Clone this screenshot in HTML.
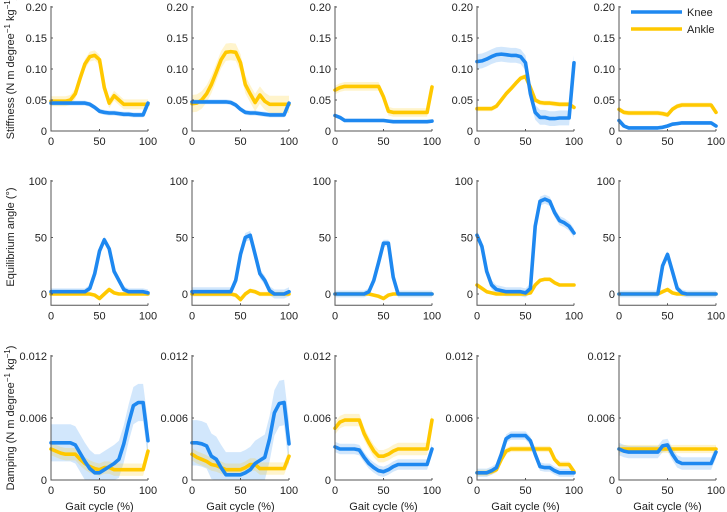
<!DOCTYPE html>
<html><head><meta charset="utf-8">
<style>
html,body{margin:0;padding:0;background:#fff;}
svg{display:block;font-family:"Liberation Sans",sans-serif;}
</style></head>
<body>
<svg id="chart" width="727" height="512" viewBox="0 0 727 512" xmlns="http://www.w3.org/2000/svg"></svg>
<script>
const X = [0,5,10,15,20,25,30,35,40,45,50,55,60,65,70,75,80,85,90,95,100];
// Row 1: stiffness
const stiffKnee = [
 [.045,.045,.045,.045,.045,.045,.045,.045,.043,.038,.032,.030,.029,.029,.028,.027,.027,.026,.026,.026,.045],
 [.047,.047,.047,.047,.047,.047,.047,.047,.046,.042,.035,.030,.029,.029,.028,.027,.026,.026,.026,.026,.045],
 [.025,.022,.017,.017,.017,.017,.017,.017,.017,.017,.017,.016,.015,.015,.015,.015,.015,.015,.015,.015,.016],
 [.112,.113,.116,.120,.123,.124,.123,.122,.122,.120,.110,.060,.030,.022,.022,.020,.020,.021,.021,.021,.110],
 [.017,.008,.005,.005,.005,.005,.005,.005,.005,.006,.008,.011,.012,.013,.013,.013,.013,.013,.013,.013,.008]];
const stiffAnkle = [
 [.048,.048,.048,.048,.050,.060,.085,.108,.120,.122,.115,.070,.045,.057,.050,.043,.043,.043,.043,.043,.043],
 [.044,.045,.050,.060,.075,.095,.115,.127,.128,.127,.110,.075,.060,.046,.058,.048,.043,.043,.043,.043,.043],
 [.066,.070,.072,.072,.072,.072,.072,.072,.072,.072,.055,.032,.030,.030,.030,.030,.030,.030,.030,.030,.071],
 [.036,.036,.036,.036,.040,.050,.060,.068,.077,.085,.088,.070,.050,.046,.045,.045,.044,.043,.043,.043,.038],
 [.035,.030,.029,.029,.029,.029,.029,.029,.029,.028,.026,.035,.040,.042,.042,.042,.042,.042,.042,.042,.030]];
const stiffKneeSd = [.004,.004,.003,.012,.003];
const stiffAnkleSd = [.008,.014,.007,.004,.004];
// Row 2: equilibrium angle
const eqKnee = [
 [2,2,2,2,2,2,2,2,5,18,38,48,40,20,12,4,2,2,2,2,1],
 [2,2,2,2,2,2,2,2,2,12,35,50,52,35,18,12,3,0,0,0,2],
 [0,0,0,0,0,0,0,2,12,28,45,45,15,0,0,0,0,0,0,0,0],
 [52,42,20,8,4,3,2,2,2,2,1,5,60,82,84,82,72,65,63,60,54],
 [0,0,0,0,0,0,0,0,0,25,35,20,5,1,0,0,0,0,0,0,0]];
const eqAnkle = [
 [0,0,0,0,0,0,0,0,0,-1,-4,0,4,1,0,0,0,0,0,0,0],
 [0,0,0,0,0,0,0,0,0,-1,-5,0,3,2,0,0,0,0,0,0,0],
 [0,0,0,0,0,0,0,0,-1,-2,-4,-1,0,0,0,0,0,0,0,0,0],
 [8,5,2,1,0,0,0,0,0,0,0,1,8,12,13,13,10,8,8,8,8],
 [0,0,0,0,0,0,0,0,0,2,4,1,0,0,0,0,0,0,0,0,0]];
const eqKneeSd = [3,4,3,4,3];
const eqAnkleSd = [1,2,1,1,1];
// Row 3: damping
const dampKnee = [
 [.0036,.0036,.0036,.0036,.0036,.0034,.0026,.0018,.0011,.0007,.0007,.0010,.0013,.0016,.0020,.0035,.0055,.0072,.0075,.0075,.0038],
 [.0036,.0036,.0035,.0033,.0023,.0020,.0012,.0005,.0005,.0005,.0005,.0007,.0010,.0016,.0019,.0022,.0040,.0065,.0074,.0075,.0035],
 [.0032,.0030,.0030,.0030,.0030,.0029,.0022,.0016,.0012,.0009,.0008,.0010,.0013,.0015,.0015,.0015,.0015,.0015,.0015,.0015,.0030],
 [.0007,.0007,.0007,.0009,.0012,.0025,.0040,.0043,.0043,.0043,.0043,.0038,.0025,.0013,.0012,.0012,.0009,.0007,.0007,.0007,.0007],
 [.0030,.0028,.0027,.0027,.0027,.0027,.0027,.0027,.0027,.0033,.0034,.0025,.0018,.0016,.0016,.0016,.0016,.0016,.0016,.0016,.0027]];
const dampAnkle = [
 [.0030,.0028,.0026,.0025,.0025,.0025,.0020,.0016,.0013,.0011,.0010,.0012,.0012,.0010,.0010,.0010,.0010,.0010,.0010,.0010,.0028],
 [.0025,.0022,.0020,.0018,.0015,.0014,.0012,.0010,.0010,.0010,.0010,.0012,.0015,.0015,.0011,.0011,.0011,.0011,.0011,.0011,.0023],
 [.0050,.0056,.0058,.0058,.0058,.0058,.0045,.0036,.0028,.0023,.0023,.0025,.0028,.0030,.0030,.0030,.0030,.0030,.0030,.0030,.0058],
 [.0007,.0007,.0007,.0008,.0010,.0020,.0028,.0030,.0030,.0030,.0030,.0030,.0030,.0030,.0030,.0030,.0020,.0015,.0015,.0015,.0008],
 [.0030,.0030,.0030,.0030,.0030,.0030,.0030,.0030,.0030,.0030,.0030,.0030,.0030,.0030,.0030,.0030,.0030,.0030,.0030,.0030,.0030]];
const dampKneeSd = [.0018,.0022,.0005,.0004,.0006];
const dampAnkleSd = [.0006,.0006,.0006,.0003,.0004];
const stiffTicks = ["0","0.05","0.10","0.15","0.20"];
const eqTicks = ["0","50","100"];
const dampTicks = ["0","0.006","0.012"];
const xTicks = ["0","50","100"];

const NS = "http://www.w3.org/2000/svg";
const svg = document.getElementById("chart");
const KNEE = "#1e88f0", ANKLE = "#ffc800";
const colX = [51,192,335,477,619], PW = 97;
const rows = [
 {name:"stiffness", min:0, max:0.2, axisMin:0, yMax:7, yZero:131, ticks:stiffTicks, tv:[0,.05,.1,.15,.2], k:stiffKnee, a:stiffAnkle, ks:stiffKneeSd, as:stiffAnkleSd},
 {name:"equilibrium", min:0, max:100, axisMin:-10, yMax:181, yZero:294, ticks:eqTicks, tv:[0,50,100], k:eqKnee, a:eqAnkle, ks:eqKneeSd, as:eqAnkleSd},
 {name:"damping", min:0, max:0.012, axisMin:0, yMax:356, yZero:480, ticks:dampTicks, tv:[0,.006,.012], k:dampKnee, a:dampAnkle, ks:dampKneeSd, as:dampAnkleSd}];

function mk(tag, attrs, parent){const e=document.createElementNS(NS,tag);for(const k in attrs)e.setAttribute(k,attrs[k]);(parent||svg).appendChild(e);return e;}

rows.forEach((r,ri)=>{
  const yS = v => r.yZero - (v - r.min)/(r.max - r.min)*(r.yZero - r.yMax);
  const yBot = yS(r.axisMin);
  const yTop = yS(r.max);
  colX.forEach((x0,ci)=>{
    const xS = v => x0 + v/100*PW;
    const g = mk("g",{});
    
    
    [[r.k[ci],r.ks[ci],KNEE,'knee'],[r.a[ci],r.as[ci],ANKLE,'ankle']].forEach(([vals,sd,col,nm])=>{
      let up = vals.map((v,i)=>xS(X[i]).toFixed(1)+","+Math.max(yS(v+sd),yTop).toFixed(1));
      let dn = vals.map((v,i)=>xS(X[i]).toFixed(1)+","+Math.min(yS(v-sd),yBot).toFixed(1)).reverse();
      const band = mk("polygon",{points:up.concat(dn).join(" "),fill:col,"fill-opacity":0.2,stroke:"none"},g);
      
      
    });
    [[r.k[ci],KNEE,'knee'],[r.a[ci],ANKLE,'ankle']].reverse().forEach(([vals,col,nm])=>{
      const pl = mk("polyline",{points:vals.map((v,i)=>xS(X[i]).toFixed(1)+","+yS(v).toFixed(1)).join(" "),fill:"none",stroke:col,"stroke-width":3.6,"stroke-linejoin":"round","stroke-linecap":"round"},g);
      
      
    });
    const ax = mk("path",{d:`M${x0},${r.yMax-1}V${yBot}H${x0+PW}`,stroke:"#555",fill:"none","stroke-width":1},g);
    
    
    r.tv.forEach((tv,ti)=>{
      const y = yS(tv);
      mk("line",{x1:x0,x2:x0+2,y1:y,y2:y,stroke:"#555"},g);
      const t = mk("text",{x:x0-4,y:y+4,"text-anchor":"end","font-size":11,fill:"#222"},g);
      t.textContent = r.ticks[ti];
      
      
    });
    [0,50,100].forEach((tv,ti)=>{
      const x = xS(tv);
      mk("line",{x1:x,x2:x,y1:yBot,y2:yBot-2,stroke:"#555"},g);
      const t = mk("text",{x:x,y:yBot+14,"text-anchor":"middle","font-size":11,fill:"#222"},g);
      t.textContent = xTicks[ti];
      
      
    });
    if(ri===2){
      const t = mk("text",{x:x0+PW/2,y:510,"text-anchor":"middle","font-size":11,fill:"#222"},g);
      t.textContent = "Gait cycle (%)";
      
      
    }
  });
});

function lab(txt, cy, nm, sup){
  const t=document.createElementNS(NS,"text");
  t.setAttribute("transform","translate(14,"+cy+") rotate(-90)");
  t.setAttribute("text-anchor","middle");t.setAttribute("font-size","11");t.setAttribute("fill","#222");
  
  
  if(sup){
    t.innerHTML = txt+'<tspan dy="-4" font-size="8">−1</tspan><tspan dy="4"> kg</tspan><tspan dy="-4" font-size="8">−1</tspan><tspan dy="4">)</tspan>';
  } else t.textContent=txt;
  svg.appendChild(t);
}
lab("Stiffness (N m degree",68,"y-axis-title-stiffness",true);
lab("Equilibrium angle (°)",237,"y-axis-title-equilibrium",false);
lab("Damping (N m degree",418,"y-axis-title-damping",true);

const leg=document.createElementNS(NS,"g");


[["Knee",KNEE,12],["Ankle",ANKLE,29]].forEach(([n,c,y])=>{
  const l=document.createElementNS(NS,"line");
  l.setAttribute("x1",631);l.setAttribute("x2",682);l.setAttribute("y1",y);l.setAttribute("y2",y);
  l.setAttribute("stroke",c);l.setAttribute("stroke-width",3.6);
  
  
  leg.appendChild(l);
  const t=document.createElementNS(NS,"text");
  t.setAttribute("x",687);t.setAttribute("y",y+4);t.setAttribute("font-size",11);t.setAttribute("fill","#222");
  t.textContent=n;
  
  
  leg.appendChild(t);
});
svg.appendChild(leg);
</script>
</body></html>
